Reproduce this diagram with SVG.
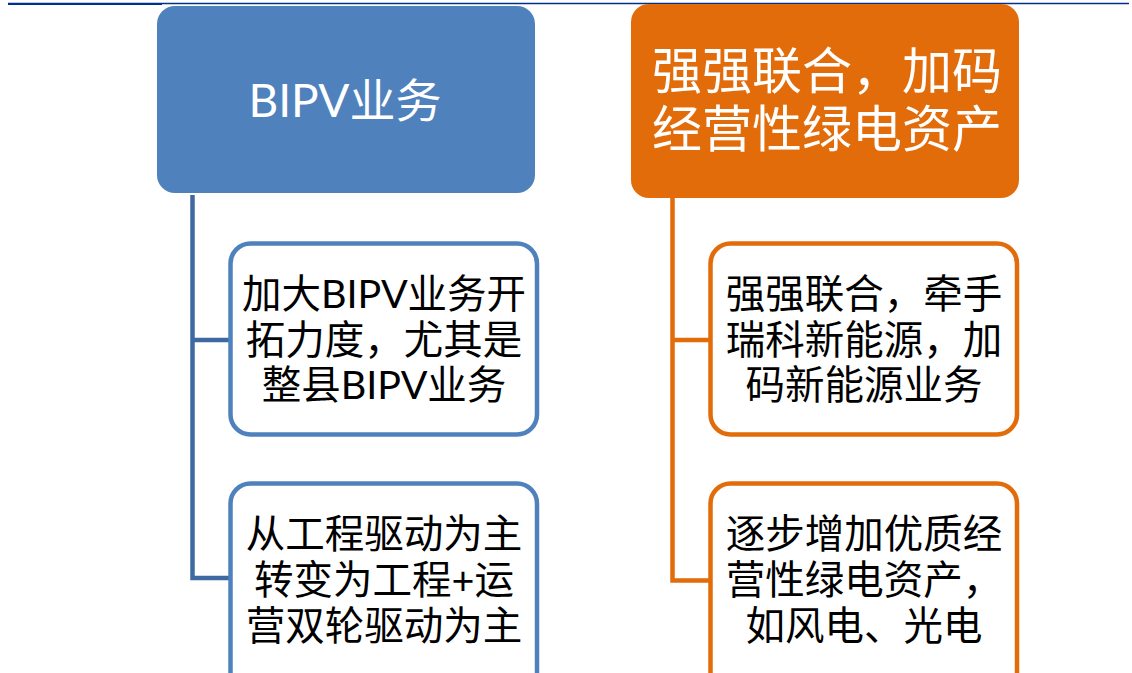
<svg xmlns="http://www.w3.org/2000/svg" width="1132" height="673" viewBox="0 0 1132 673">
<style>
.hb{fill:#4F81BD}
.ho{fill:#E36C0A}
.cb{fill:#fff;stroke:#4F81BD;stroke-width:4.5}
.co{fill:#fff;stroke:#E36C0A;stroke-width:4.5}
.ht{fill:#fff;font-family:Lato,"Noto Sans CJK SC",sans-serif;text-anchor:middle}
.ct{fill:#000;font-family:Lato,"Noto Sans CJK SC",sans-serif;font-size:39.5px;text-anchor:middle}
.lb{fill:none;stroke:#3F6AA1;stroke-width:4.5}
.lo{fill:none;stroke:#E36C0A;stroke-width:4.5}
</style>
<rect width="1132" height="673" fill="#fff"/>
<g id="topline">
<line x1="162" y1="3.6" x2="1129" y2="3.6" stroke="#002F8E" stroke-width="1.5"/>
<line x1="8" y1="3.8" x2="162" y2="3.8" stroke="#002F8E" stroke-width="2.2"/>
</g>
<g id="connectors">
<path class="lb" d="M192.5,195 V578 H230"/>
<path class="lb" d="M192.5,340 H230"/>
<path class="lo" d="M672.5,198 V580.5 H710"/>
<path class="lo" d="M672.5,340 H710"/>
</g>
<g id="header-left">
<rect class="hb" x="157" y="6" width="378" height="187" rx="18"/>
<text class="ht" x="345" y="117" font-size="46">BIPV业务</text>
</g>
<g id="header-right">
<rect class="ho" x="631" y="4" width="388" height="194" rx="18"/>
<text class="ht" x="827" y="89" font-size="50">强强联合，加码</text>
<text class="ht" x="827" y="147" font-size="50">经营性绿电资产</text>
</g>
<g id="left-1">
<rect class="cb" x="230.5" y="243.5" width="306.5" height="191" rx="20"/>
<text class="ct" x="384" y="308">加大BIPV业务开</text>
<text class="ct" x="384" y="354">拓力度，尤其是</text>
<text class="ct" x="384" y="399">整县BIPV业务</text>
</g>
<g id="left-2">
<rect class="cb" x="230.5" y="483.5" width="306.5" height="220" rx="20"/>
<text class="ct" x="384" y="548">从工程驱动为主</text>
<text class="ct" x="384" y="594">转变为工程+运</text>
<text class="ct" x="384" y="640">营双轮驱动为主</text>
</g>
<g id="right-1">
<rect class="co" x="710.5" y="243.5" width="306.5" height="191" rx="20"/>
<text class="ct" x="864" y="308">强强联合，牵手</text>
<text class="ct" x="864" y="354">瑞科新能源，加</text>
<text class="ct" x="864" y="399">码新能源业务</text>
</g>
<g id="right-2">
<rect class="co" x="710.5" y="483.5" width="306.5" height="220" rx="20"/>
<text class="ct" x="864" y="548">逐步增加优质经</text>
<text class="ct" x="864" y="594">营性绿电资产，</text>
<text class="ct" x="864" y="640">如风电、光电</text>
</g>
</svg>
